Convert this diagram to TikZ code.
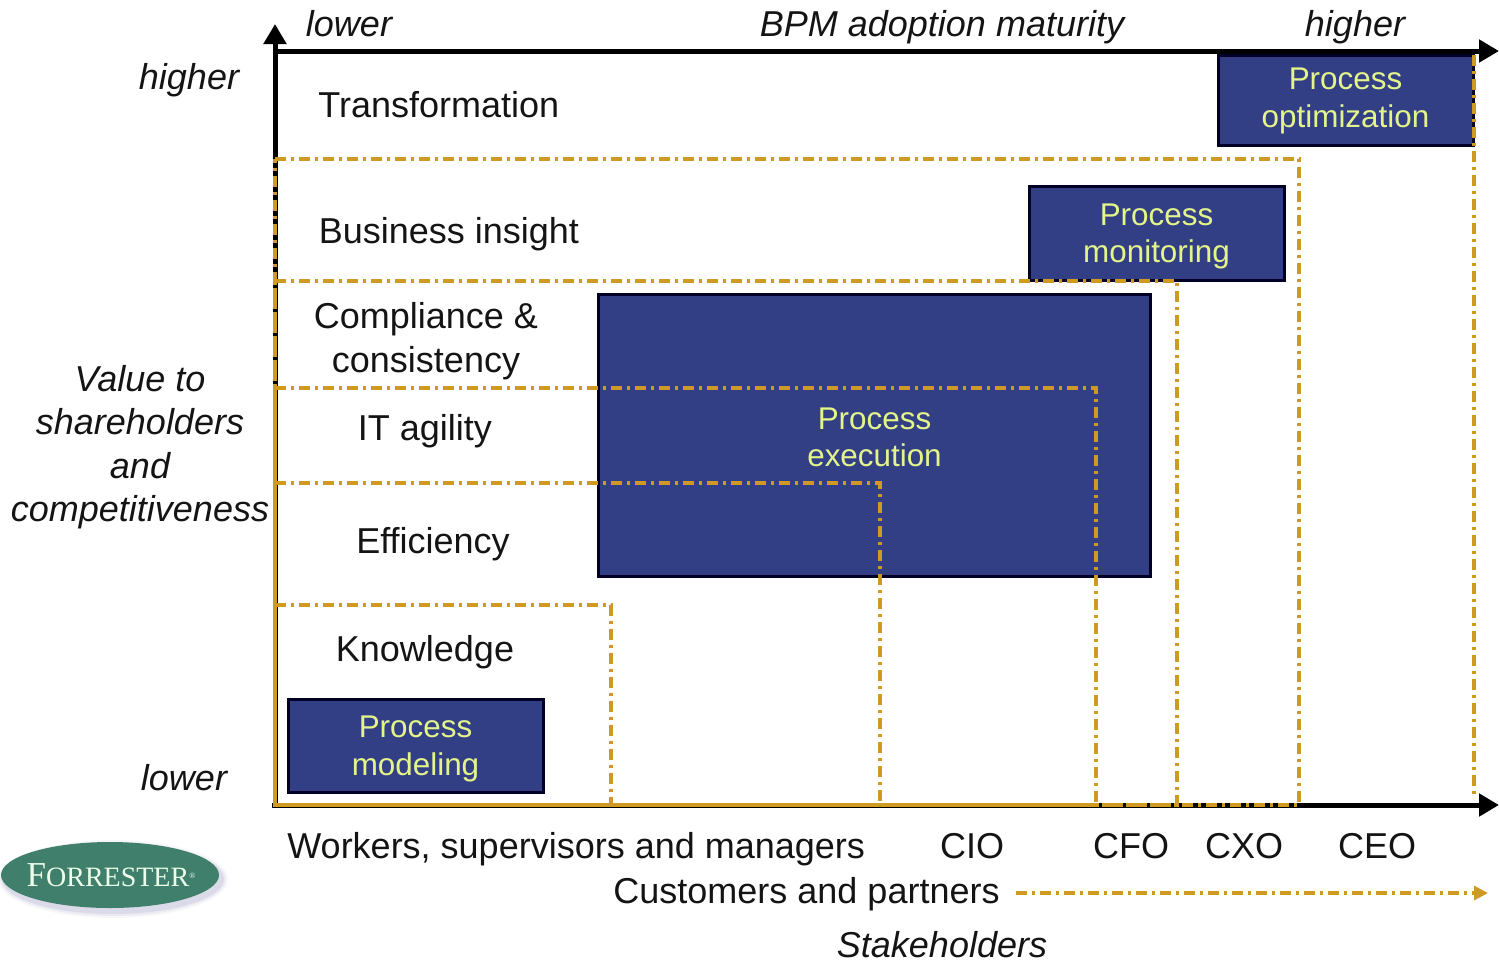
\documentclass[tikz,border=0pt]{standalone}
\usepackage{fontspec}
\setmainfont{Liberation Sans}
\newfontfamily\logofont{Liberation Serif}
\usetikzlibrary{arrows.meta}
\definecolor{boxblue}{HTML}{333F85}
\definecolor{boxtext}{HTML}{E3F58A}
\definecolor{frameorange}{HTML}{CF9A22}
\definecolor{logogreen}{HTML}{3F7F6C}
\tikzset{
  axis/.style={line width=2.5pt,black,-{Triangle[length=10pt,width=11pt]}},
  frameline/.style={line width=1.6pt,frameorange,dash pattern=on 5.5pt off 2.5pt on 1.5pt off 2.5pt},
  lab/.style={anchor=base,inner sep=0pt,text=black!92,font=\fontsize{18}{22}\selectfont},
  ital/.style={lab,font=\fontsize{18}{21.75}\selectfont\itshape},
  stage/.style={draw=black!85!blue,line width=1.5pt,fill=boxblue,inner sep=0pt},
  stagetext/.style={text=boxtext,align=center,inner sep=0pt,font=\fontsize{15.7}{18.7}\selectfont},
}
\begin{document}
\begin{tikzpicture}[x=0.5pt,y=-0.5pt]
\useasboundingbox (0,0) rectangle (1499,960);
% named points
\coordinate (origin) at (275,805);
\coordinate (topleft) at (275,51);
\coordinate (ytip) at (275,24);
\coordinate (xtip) at (1499,51);
\coordinate (btail) at (272,805);
\coordinate (btip) at (1499,805);
\coordinate (f1a) at (275,159); \coordinate (f1b) at (1299,159); \coordinate (f1c) at (1299,805);
\coordinate (f2a) at (275,281); \coordinate (f2b) at (1177,281); \coordinate (f2c) at (1177,805);
\coordinate (f3a) at (275,388); \coordinate (f3b) at (1096,388); \coordinate (f3c) at (1096,805);
\coordinate (f4a) at (275,483); \coordinate (f4b) at (880,483);  \coordinate (f4c) at (880,805);
\coordinate (f5a) at (275,605); \coordinate (f5b) at (611,605);  \coordinate (f5c) at (611,805);
\coordinate (f6a) at (1474,55); \coordinate (f6b) at (1474,798);
\coordinate (sa) at (1016,893); \coordinate (sb) at (1488,893);

% stage boxes
\node[stage,minimum width=127.5pt,minimum height=45pt] (opt) at (1345.5,100.5) {};
\node[stage,minimum width=127.5pt,minimum height=47pt] (mon) at (1156.5,233.5) {};
\node[stage,minimum width=276pt,minimum height=141pt] (exe) at (874.5,435.5) {};
\node[stage,minimum width=127.5pt,minimum height=46.5pt] (mod) at (415.5,746) {};
\node[stagetext] (optt) at ([yshift=-0.2pt]opt.center) {Process\\optimization};
\node[stagetext] (mont) at ([yshift=-1.4pt]mon.center) {Process\\monitoring};
\node[stagetext] (exet) at ([yshift=-1pt]exe.center) {Process\\execution};
\node[stagetext] (modt) at ([yshift=-1.4pt]mod.center) {Process\\modeling};

% axes
\draw[axis] (origin) -- (ytip);
\draw[axis] (topleft) -- (xtip);
\draw[axis] (btail) -- (btip);

% maturity frames
\draw[frameline] (f1a) -- (f1b) -- (f1c) -- (origin) -- cycle;
\draw[frameline] (f2a) -- (f2b) -- (f2c) -- (origin) -- cycle;
\draw[frameline] (f3a) -- (f3b) -- (f3c) -- (origin) -- cycle;
\draw[frameline] (f4a) -- (f4b) -- (f4c) -- (origin) -- cycle;
\draw[frameline] (f5a) -- (f5b) -- (f5c) -- (origin) -- cycle;
\draw[frameline] (f6a) -- (f6b);
\draw[frameline,-{Triangle[length=7pt,width=7pt]}] (sa) -- (sb);

% axis labels
\node[ital] (xl) at (349,36) {lower};
\node[ital] (xm) at (942,36) {BPM adoption maturity};
\node[ital] (xh) at (1355,36) {higher};
\node[ital] (yh) at (189,89) {higher};
\node[ital] (yl) at (184,790) {lower};
\node[ital] (v1) at (140,391.5) {Value to};
\node[ital] (v2) at (140,434.5) {shareholders};
\node[ital] (v3) at (140,478.5) {and};
\node[ital] (v4) at (140,521.5) {competitiveness};
\node[ital] (st) at (942,957.5) {Stakeholders};

% value levels
\node[lab,anchor=base west] (l1) at (318,117) {Transformation};
\node[lab,anchor=base west] (l2) at (318.5,243) {Business insight};
\node[lab] (l3a) at (426,328.5) {Compliance \&};
\node[lab] (l3b) at (426,372.5) {consistency};
\node[lab] (l4) at (425,440.5) {IT agility};
\node[lab] (l5) at (433,553.5) {Efficiency};
\node[lab] (l6) at (425,661) {Knowledge};

% stakeholders
\node[lab,anchor=base west] (s1) at (287,858) {Workers, supervisors and managers};
\node[lab] (s2) at (972,858) {CIO};
\node[lab] (s3) at (1131,858) {CFO};
\node[lab] (s4) at (1244,858) {CXO};
\node[lab] (s5) at (1377,858) {CEO};
\node[lab,anchor=base east] (s6) at (1000,903.5) {Customers and partners};

% logo
\foreach \g/\o in {7/0.05,5/0.08,3/0.12}{
  \fill[blue!25!gray,opacity=\o] (113,879) ellipse [x radius=108+\g, y radius=32+\g];
}
\fill[logogreen] (110,875) ellipse [x radius=109, y radius=33];
\node[inner sep=0pt,text=white!92!green,font=\logofont\fontsize{14}{14}\selectfont] (logo) at (111,875)
  {{\fontsize{17.5}{16}\selectfont F}ORRESTER\raisebox{4pt}{\fontsize{4}{4}\selectfont ®}};
\end{tikzpicture}
\end{document}
